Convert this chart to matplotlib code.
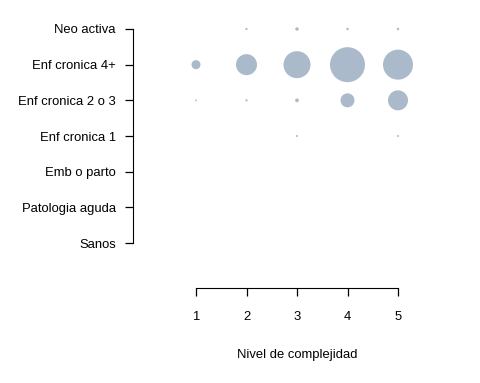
import numpy as np
import matplotlib.pyplot as plt

plt.rcParams['font.family'] = ['Liberation Sans', 'DejaVu Sans']

categorias = ['Sanos', 'Patologia aguda', 'Emb o parto', 'Enf cronica 1',
              'Enf cronica 2 o 3', 'Enf cronica 4+', 'Neo activa']
niveles = [1, 2, 3, 4, 5]

# tamaño relativo de cada burbuja (proporcional al área)
tam_sanos = [0, 0, 0, 0, 0]
tam_aguda = [0, 0, 0, 0, 0]
tam_emb = [0, 0, 0, 0, 0]
tam_cron1 = [0, 0, 4, 0, 4]
tam_cron23 = [3, 5, 14, 196, 400]
tam_cron4 = [81, 441, 729, 1225, 900]
tam_neo = [0, 5, 12, 6, 6]

filas = [tam_sanos, tam_aguda, tam_emb, tam_cron1, tam_cron23, tam_cron4, tam_neo]

fig = plt.figure(figsize=(4.8, 3.83), dpi=100)
ax = fig.add_axes([133 / 480, 95 / 383, 327 / 480, 273 / 383])

xs, ys, ss = [], [], []
for i, fila in enumerate(filas):
    for j, v in enumerate(fila):
        if v > 0:
            xs.append(niveles[j])
            ys.append(i)
            ss.append(v * 0.72 ** 2)

ax.scatter(xs, ys, s=ss, color='#aabacb', edgecolors='none')

ax.set_xlim(1 - 63 / 50.5, 5 + 62 / 50.5)
ax.set_ylim(-45 / 35.67, 6 + 14 / 35.67)

for lado in ['top', 'right']:
    ax.spines[lado].set_visible(False)
ax.spines['left'].set_bounds(0, 6)
ax.spines['bottom'].set_bounds(1, 5)

ax.set_xticks(niveles)
ax.set_yticks(range(len(categorias)))
ax.set_yticklabels(categorias)
ax.tick_params(axis='x', direction='out', length=5.8, width=0.9, pad=10.5, labelsize=9.4)
ax.tick_params(axis='y', direction='out', length=5.8, width=0.9, pad=6.5, labelsize=9.4)

fig.text(297 / 480, 1 - 355 / 383, 'Nivel de complejidad', ha='center', va='center', fontsize=9.4)

fig.savefig('out.png', dpi=100)
